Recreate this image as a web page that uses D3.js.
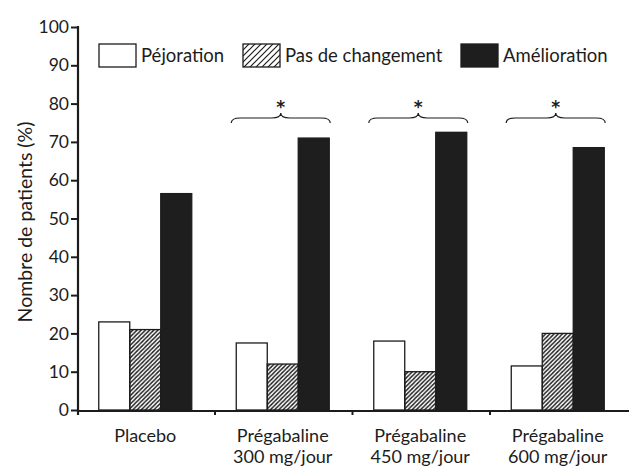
<!DOCTYPE html>
<meta charset="utf-8">
<script src="https://d3js.org/d3.v7.min.js"></script>
<style>
  body { margin: 0; background: #fff; }
  text { font-family: Lato, "DejaVu Sans", sans-serif; fill: #1c1c1c; }
</style>
<svg id="chart" width="637" height="467"></svg>
<script>
// data
const categories = [
  ["Placebo"],
  ["Prégabaline", "300 mg/jour"],
  ["Prégabaline", "450 mg/jour"],
  ["Prégabaline", "600 mg/jour"]
];
const seriesNames = ["Péjoration", "Pas de changement", "Amélioration"];
const pejoration = [23, 17.5, 18, 11.5];
const pasDeChangement = [21, 12, 10, 20];
const amelioration = [56.5, 71, 72.5, 68.5];
const yTicks = [0, 10, 20, 30, 40, 50, 60, 70, 80, 90, 100];
const significant = [false, true, true, true];

const svg = d3.select("#chart");
const ink = "#1c1c1c";

// hatching
const defs = svg.append("defs");
function hatch(id, s, w) {
  defs.append("pattern")
    .attr("id", id)
    .attr("patternUnits", "userSpaceOnUse")
    .attr("width", s).attr("height", s)
    .append("path")
    .attr("d", `M${-s/4},${s/4} l${s/2},${-s/2} M0,${s} l${s},${-s} M${s*3/4},${s*5/4} l${s/2},${-s/2}`)
    .attr("stroke", ink).attr("stroke-width", w);
}
hatch("hatchBar", 4.2, 1.4);
hatch("hatchKey", 6, 1.2);

const fills = ["#fff", "url(#hatchBar)", "#1e1e1e"];
const keyFills = ["#fff", "url(#hatchKey)", "#1e1e1e"];

// scales
const y = d3.scaleLinear().domain([0, 100]).range([410, 27]);
const x = d3.scaleBand().domain(d3.range(categories.length)).range([76.5, 626.5]);
const xs = d3.scaleBand().domain(d3.range(3)).range([0, x.bandwidth()]).paddingOuter(0.718);

const rows = categories.map((c, i) => ({
  i, values: [pejoration[i], pasDeChangement[i], amelioration[i]]
}));

// bars
const groups = svg.append("g").selectAll("g")
  .data(rows).join("g")
  .attr("transform", d => `translate(${x(d.i)},0)`);

groups.selectAll("rect")
  .data(d => d.values.map((v, k) => ({ v, k })))
  .join("rect")
  .attr("x", d => xs(d.k))
  .attr("width", xs.bandwidth())
  .attr("y", d => y(d.v))
  .attr("height", d => y(0) - y(d.v))
  .attr("fill", d => fills[d.k])
  .attr("stroke", ink)
  .attr("stroke-width", 1.3);

// y axis
const yAxis = svg.append("g")
  .attr("transform", "translate(78,0)")
  .call(d3.axisLeft(y).tickValues(yTicks).tickSize(7).tickPadding(2))
  .call(g => g.select(".domain").remove());
yAxis.selectAll(".tick line").attr("stroke", ink).attr("stroke-width", 2);
yAxis.selectAll(".tick text")
  .style("font-size", "17.5px")
  .style("font-family", "Lato, sans-serif")
  .attr("fill", ink);

svg.append("line")
  .attr("x1", 78).attr("x2", 78)
  .attr("y1", y(100) - 1).attr("y2", y(0) + 5)
  .attr("stroke", ink).attr("stroke-width", 2.2);

// x axis
svg.append("line")
  .attr("x1", 78).attr("x2", 629)
  .attr("y1", y(0) + 1).attr("y2", y(0) + 1)
  .attr("stroke", ink).attr("stroke-width", 2.2);

svg.append("g").selectAll("line")
  .data(d3.range(1, categories.length))
  .join("line")
  .attr("x1", i => x(i) + 1).attr("x2", i => x(i) + 1)
  .attr("y1", y(0)).attr("y2", y(0) + 5)
  .attr("stroke", ink).attr("stroke-width", 2);

// category labels
const labels = svg.append("g").selectAll("text")
  .data(rows).join("text")
  .attr("text-anchor", "middle")
  .style("font-size", "18px")
  .attr("transform", d => `translate(${x(d.i) + x.bandwidth() / 2},442)`);
labels.selectAll("tspan")
  .data(d => categories[d.i])
  .join("tspan")
  .attr("x", 0)
  .attr("dy", (t, k) => k ? 21 : 0)
  .text(t => t);

// y label
svg.append("text")
  .attr("transform", "translate(32,222) rotate(-90)")
  .attr("text-anchor", "middle")
  .style("font-size", "19.5px")
  .text("Nombre de patients (%)");

// significance braces
function bracePath(x1, x2, yb, h) {
  const xm = (x1 + x2) / 2, r = 9, ym = yb - h / 2;
  return `M${x1},${yb} Q${x1},${ym} ${x1 + r},${ym} L${xm - r},${ym} Q${xm},${ym} ${xm},${yb - h}` +
         ` Q${xm},${ym} ${xm + r},${ym} L${x2 - r},${ym} Q${x2},${ym} ${x2},${yb}`;
}
const sig = rows.filter(d => significant[d.i]);
const braceG = svg.append("g").selectAll("g")
  .data(sig).join("g")
  .attr("transform", d => `translate(${x(d.i)},0)`);
braceG.append("path")
  .attr("d", bracePath(xs(0) - 5, xs(2) + xs.bandwidth() + 1, 123, 10))
  .attr("fill", "none")
  .attr("stroke", ink)
  .attr("stroke-width", 1.2);
braceG.append("text")
  .attr("x", (xs(0) - 5 + xs(2) + xs.bandwidth() + 1) / 2)
  .attr("y", 113)
  .attr("text-anchor", "middle")
  .style("font-size", "17px")
  .style("font-weight", "bold")
  .style("font-family", "'DejaVu Sans', sans-serif")
  .attr("fill", ink)
  .text("*");

// legend
const keyX = [99, 243, 461];
const key = svg.append("g").selectAll("g")
  .data(seriesNames).join("g")
  .attr("transform", (d, k) => `translate(${keyX[k]},44)`);
key.append("rect")
  .attr("width", 37).attr("height", 23)
  .attr("fill", (d, k) => keyFills[k])
  .attr("stroke", ink)
  .attr("stroke-width", 1.3);
key.append("text")
  .attr("x", 42).attr("y", 18)
  .style("font-size", "18.5px")
  .text(d => d);
</script>
